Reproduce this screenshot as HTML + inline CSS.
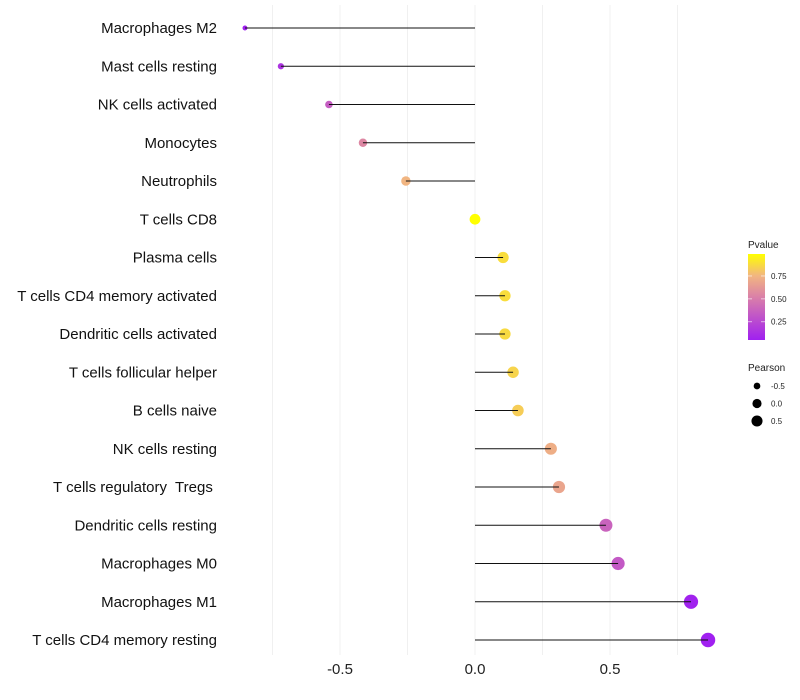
<!DOCTYPE html>
<html><head><meta charset="utf-8"><style>
body{margin:0;background:#fff;font-family:"Liberation Sans",sans-serif}
svg{display:block}
text{white-space:pre}
</style></head><body>
<svg id="chart" width="800" height="700" xmlns="http://www.w3.org/2000/svg"></svg>
<script>
const categories=["Macrophages M2","Mast cells resting","NK cells activated","Monocytes","Neutrophils","T cells CD8","Plasma cells","T cells CD4 memory activated","Dendritic cells activated","T cells follicular helper","B cells naive","NK cells resting","T cells regulatory  Tregs ","Dendritic cells resting","Macrophages M0","Macrophages M1","T cells CD4 memory resting"];
const pearson=[-0.852,-0.719,-0.541,-0.415,-0.256,0,0.104,0.111,0.111,0.141,0.159,0.281,0.311,0.485,0.530,0.800,0.863];
const pvalue=[0.05,0.15,0.35,0.55,0.75,0.99,0.88,0.88,0.87,0.85,0.83,0.72,0.68,0.38,0.33,0.06,0.05];
const xTicks=[-0.5,0,0.5];
const xGrid=[-0.75,-0.5,-0.25,0,0.25,0.5,0.75];
const pTicks=[0.25,0.5,0.75];
const sizeLegend=[-0.5,0,0.5];

const NS="http://www.w3.org/2000/svg";
const svg=document.getElementById('chart');
function el(t,a,p){const e=document.createElementNS(NS,t);for(const k in a)e.setAttribute(k,a[k]);(p||svg).appendChild(e);return e;}
const x=v=>475+v*270;
const y=i=>28+i*38.25;
const r=v=>Math.sqrt(Math.max(1,29+27*v));
const stops=[[0,[160,32,240]],[0.5,[218,128,168]],[0.75,[242,182,128]],[1,[255,255,0]]];
const pMin=0.05,pMax=0.99;
function col(p){let t=Math.max(0,Math.min(1,(p-pMin)/(pMax-pMin)));for(let i=1;i<stops.length;i++){if(t<=stops[i][0]){const a=stops[i-1],b=stops[i];const f=(t-a[0])/(b[0]-a[0]);return 'rgb('+a[1].map((c,j)=>Math.round(c+(b[1][j]-c)*f)).join(',')+')';}}return 'rgb(255,255,0)';}

xGrid.forEach(v=>{const g=el('line',{x1:x(v),x2:x(v),y1:5,y2:655,stroke:'#f0f0f0','stroke-width':1});

});
xTicks.forEach(v=>{const t=el('text',{x:x(v),y:674,'text-anchor':'middle','font-size':15,fill:'#222'});t.textContent=v.toFixed(1);

});
categories.forEach((c,i)=>{
const t=el('text',{x:217,y:y(i)+5,'text-anchor':'end','font-size':15,fill:'#111'});t.textContent=c;


const d=el('circle',{cx:x(pearson[i]),cy:y(i),r:r(pearson[i]),fill:col(pvalue[i])});


const l=el('line',{x1:x(0),x2:x(pearson[i]),y1:y(i),y2:y(i),stroke:'#111','stroke-width':1});


});
const defs=el('defs',{});const gr=el('linearGradient',{id:'cb',x1:0,y1:1,x2:0,y2:0},defs);
stops.forEach(s=>el('stop',{offset:s[0],'stop-color':'rgb('+s[1].join(',')+')'},gr));
let t=el('text',{x:748,y:248,'font-size':10,fill:'#222'});t.textContent='Pvalue';


const cb=el('rect',{x:748,y:254,width:17,height:86,fill:'url(#cb)'});


const py=p=>340-(p-pMin)/(pMax-pMin)*86;
pTicks.forEach(p=>{el('line',{x1:748,x2:752,y1:py(p),y2:py(p),stroke:'#fff','stroke-opacity':0.6});el('line',{x1:761,x2:765,y1:py(p),y2:py(p),stroke:'#fff','stroke-opacity':0.6});
const tt=el('text',{x:771,y:py(p)+3,'font-size':8,fill:'#222'});tt.textContent=p.toFixed(2);

});
t=el('text',{x:748,y:371,'font-size':10,fill:'#222'});t.textContent='Pearson';


sizeLegend.forEach((v,i)=>{el('circle',{cx:757,cy:386+i*17.5,r:r(v)*0.85,fill:'#000'});
const tt=el('text',{x:771,y:389+i*17.5,'font-size':8,fill:'#222'});tt.textContent=v.toFixed(1);

});
</script>
</body></html>
